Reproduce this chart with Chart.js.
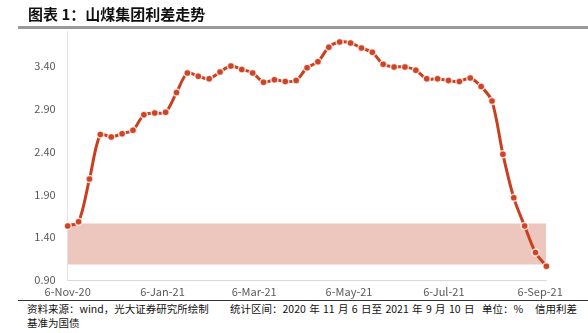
<!DOCTYPE html>
<html>
<head>
<meta charset="utf-8">
<script src="https://cdn.jsdelivr.net/npm/chart.js@4.4.0/dist/chart.umd.min.js"></script>
<style>
  body { margin: 0; background: #fff; font-family: "Noto Sans CJK SC", sans-serif; }
  #wrap { position: relative; width: 588px; height: 333px; overflow: hidden; }
  #title { position: absolute; left: 28px; top: 4px; font-size: 15px; font-weight: bold; color: #111; line-height: 20px; z-index: 2; }
  #tline { position: absolute; left: 18px; top: 26px; width: 570px; height: 3px; background: #999; }
  #chartBox { position: absolute; left: 0; top: 0; }
  #bline { position: absolute; left: 18px; top: 300px; width: 570px; height: 1px; background: #333; }
  .note { position: absolute; font-size: 10.5px; line-height: 14px; color: #111; white-space: nowrap; }
</style>
</head>
<body>
<div id="wrap">
  <canvas id="chartBox" width="588" height="300"></canvas>
  <div id="title">图表 1：山煤集团利差走势</div>
  <div id="tline"></div>
  <div id="bline"></div>
  <div class="note" style="left:27px;top:302px">资料来源：wind，光大证券研究所绘制</div>
  <div class="note" style="left:230px;top:302px;word-spacing:1px">统计区间：2020 年 11 月 6 日至 2021 年 9 月 10 日</div>
  <div class="note" style="left:482px;top:302px">单位：%</div>
  <div class="note" style="left:535px;top:302px">信用利差</div>
  <div class="note" style="left:27px;top:316px">基准为国债</div>
</div>
<script>
// weekly spread, %
const dates = [
  '2020-11-06','2020-11-13','2020-11-20','2020-11-27','2020-12-04','2020-12-11','2020-12-18','2020-12-25',
  '2021-01-01','2021-01-08','2021-01-15','2021-01-22','2021-01-29','2021-02-05','2021-02-12','2021-02-19',
  '2021-02-26','2021-03-05','2021-03-12','2021-03-19','2021-03-26','2021-04-02','2021-04-09','2021-04-16',
  '2021-04-23','2021-04-30','2021-05-07','2021-05-14','2021-05-21','2021-05-28','2021-06-04','2021-06-11',
  '2021-06-18','2021-06-25','2021-07-02','2021-07-09','2021-07-16','2021-07-23','2021-07-30','2021-08-06',
  '2021-08-13','2021-08-20','2021-08-27','2021-09-03','2021-09-10'
];
const spread = [
  1.53, 1.58, 2.08, 2.60, 2.57, 2.61, 2.65, 2.83, 2.85, 2.86,
  3.09, 3.32, 3.28, 3.25, 3.33, 3.40, 3.36, 3.32, 3.21, 3.24,
  3.22, 3.23, 3.38, 3.45, 3.62, 3.68, 3.67, 3.61, 3.56, 3.42,
  3.39, 3.39, 3.35, 3.25, 3.25, 3.23, 3.22, 3.26, 3.16, 2.99,
  2.37, 1.86, 1.53, 1.22, 1.06
];
const tickDates = ['2020-11-06','2021-01-06','2021-03-06','2021-05-06','2021-07-06','2021-09-06'];
const tickLabels = ['6-Nov-20','6-Jan-21','6-Mar-21','6-May-21','6-Jul-21','6-Sep-21'];
const yTicks = [0.9, 1.4, 1.9, 2.4, 2.9, 3.4];
const band = [1.08, 1.56];

const day = d => (Date.parse(d) - Date.parse(dates[0])) / 86400000;
const lastDay = day(dates[dates.length - 1]);
const tickDays = tickDates.map(day);

const ctx = document.getElementById('chartBox');
new Chart(ctx, {
  type: 'line',
  data: {
    datasets: [
      {
        data: dates.map((d, i) => ({ x: day(d), y: spread[i] })),
        borderColor: '#C8401F',
        borderWidth: 3,
        tension: 0.3,
        pointRadius: 3.5,
        pointBackgroundColor: '#CD4426',
        pointBorderColor: 'rgba(255,255,255,0.75)',
        pointBorderWidth: 1.5,
        clip: false
      },
      {
        data: [{ x: 0, y: band[1] }, { x: lastDay, y: band[1] }],
        borderWidth: 0,
        pointRadius: 0,
        fill: '+1',
        backgroundColor: '#EDC7BD'
      },
      {
        data: [{ x: 0, y: band[0] }, { x: lastDay, y: band[0] }],
        borderWidth: 0,
        pointRadius: 0,
        fill: false
      }
    ]
  },
  options: {
    responsive: false,
    animation: false,
    layout: { padding: { left: 0, right: 41.6, top: 31.8, bottom: 0 } },
    plugins: { legend: { display: false }, tooltip: { enabled: false } },
    scales: {
      x: {
        type: 'linear',
        min: 0,
        max: lastDay,
        afterFit: s => { s.height = 20; },
        afterBuildTicks: s => { s.ticks = tickDays.map(v => ({ value: v })); },
        grid: { display: false, drawTicks: false },
        border: { display: true, color: '#d9d9d9', width: 1 },
        ticks: {
          autoSkip: false,
          maxRotation: 0,
          padding: 5,
          color: '#595959',
          font: { family: 'Noto Sans CJK SC', size: 11 },
          callback: v => tickLabels[tickDays.indexOf(v)]
        }
      },
      y: {
        min: 0.9,
        max: 3.8,
        afterFit: s => { s.width = 67.7; },
        afterBuildTicks: s => { s.ticks = yTicks.map(v => ({ value: v })); },
        grid: { display: false, drawTicks: false },
        border: { display: true, color: '#e3e3e3', width: 1 },
        ticks: {
          padding: 12,
          color: '#595959',
          font: { family: 'Noto Sans CJK SC', size: 11 },
          callback: v => v.toFixed(2)
        }
      }
    }
  }
});
</script>
</body>
</html>
